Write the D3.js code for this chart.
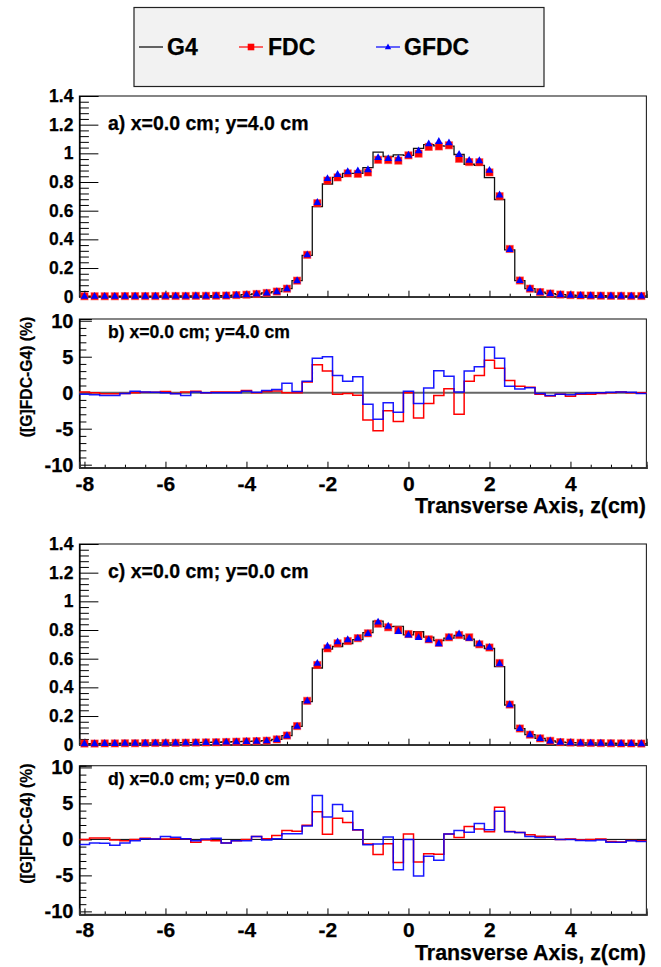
<!DOCTYPE html>
<html><head><meta charset="utf-8">
<script src="https://cdn.jsdelivr.net/npm/d3@7"></script>
<style>
body{margin:0;background:#fff}
text{font-family:"Liberation Sans",Arial,Helvetica,sans-serif;font-weight:bold;fill:#000;stroke:#000;stroke-width:0.25px}
</style>
</head><body>
<svg id="c" width="661" height="967"></svg>
<script>
// ---- DATA ----
const binWidth = 0.25;
const zBins = d3.range(56).map(i => -8 + binWidth * i);   // bin centres (cm)

const seriesNames = ["G4", "FDC", "GFDC"];
const xTickValues = [-8, -6, -4, -2, 0, 2, 4];
const xTickLabels = ["-8", "-6", "-4", "-2", "0", "2", "4"];
const yTickValuesDose = [0, 0.2, 0.4, 0.6, 0.8, 1, 1.2, 1.4];
const yTickLabelsDose = ["0", "0.2", "0.4", "0.6", "0.8", "1", "1.2", "1.4"];
const yTickValuesDiff = [-10, -5, 0, 5, 10];
const yTickLabelsDiff = ["-10", "-5", "0", "5", "10"];
const panelLabels = ["a) x=0.0 cm; y=4.0 cm", "b) x=0.0 cm; y=4.0 cm", "c) x=0.0 cm; y=0.0 cm", "d) x=0.0 cm; y=0.0 cm"];
const xTitle = "Transverse Axis, z(cm)";
const yTitleDiff = "([G]FDC-G4) (%)";

// panel a (y = 4.0 cm)
const g4A = [0.003,0.003,0.003,0.003,0.004,0.004,0.004,0.004,0.005,0.005,0.005,0.006,0.006,0.007,0.008,
  0.011,0.014,0.019,0.026,0.036,0.056,0.112,0.288,0.628,0.786,
  0.833,0.86,0.86,0.901,1.008,0.978,0.99,0.986,1.034,1.061,
  1.052,1.05,0.992,0.924,0.916,0.83,0.678,0.327,0.112,0.056,
  0.032,0.022,0.015,0.011,0.009,0.008,0.007,0.006,0.006,0.005,0.005];
const fdcA = [0.003,0.003,0.003,0.003,0.004,0.004,0.004,0.004,0.005,0.005,0.005,0.006,0.006,0.007,0.008,
  0.011,0.014,0.019,0.026,0.036,0.056,0.112,0.292,0.652,0.81,
  0.832,0.86,0.857,0.867,0.955,0.953,0.949,0.986,0.998,1.045,
  1.048,1.056,0.962,0.939,0.938,0.867,0.701,0.333,0.113,0.056,
  0.032,0.022,0.015,0.011,0.009,0.008,0.007,0.006,0.006,0.005,0.005];
const gfdcA = [0.003,0.003,0.003,0.003,0.004,0.004,0.004,0.004,0.005,0.005,0.005,0.006,0.006,0.007,0.008,
  0.011,0.014,0.019,0.026,0.036,0.057,0.112,0.293,0.658,0.825,
  0.853,0.873,0.879,0.887,0.971,0.964,0.963,0.988,1.018,1.067,
  1.084,1.074,0.993,0.952,0.949,0.882,0.71,0.33,0.113,0.056,
  0.032,0.022,0.015,0.011,0.009,0.008,0.007,0.006,0.006,0.005,0.005];
// panel b : relative differences (%)
const dFdcB = [0.1,0,-0.15,-0.15,-0.1,0,0.05,0.05,0.15,-0.1,0.1,0.2,0,0.1,0.1,
  0.1,0.3,0,0.15,0.25,0,0,1.5,3.9,3.0,
  -0.2,-0.1,-0.35,-3.8,-5.3,-2.5,-4.0,0,-3.5,-1.5,
  -0.4,0.55,-3.0,1.6,2.4,4.5,3.4,1.7,0.9,0.75,
  -0.2,-0.45,-0.2,-0.5,-0.2,-0.2,-0.1,0,0.1,0,0];
const dGfdcB = [-0.2,-0.3,-0.4,-0.4,-0.1,0.2,0.1,0.05,0,-0.15,-0.4,0.1,0,0,0,
  0,0.2,0.05,0.3,0.45,1.3,0.15,1.6,4.8,5.0,
  2.4,1.6,2.2,-1.6,-3.7,-1.4,-2.7,0.2,-1.5,0.65,
  3.05,2.3,0.1,3.0,3.6,6.3,4.8,0.9,0.5,0.7,
  -0.1,-0.4,-0.2,-0.3,-0.1,-0.05,0,0.05,0.1,0.05,-0.1];

// panel c (y = 0.0 cm)
const g4C = [0.008,0.008,0.009,0.009,0.01,0.01,0.011,0.012,0.012,0.013,0.014,0.015,0.016,0.017,0.019,
  0.021,0.023,0.025,0.028,0.037,0.063,0.128,0.3,0.535,0.667,
  0.685,0.706,0.733,0.782,0.862,0.824,0.826,0.766,0.788,0.75,
  0.726,0.744,0.763,0.736,0.69,0.671,0.545,0.277,0.112,0.07,
  0.044,0.027,0.018,0.015,0.013,0.012,0.011,0.01,0.009,0.009,0.008];
const fdcC = [0.008,0.008,0.009,0.009,0.01,0.01,0.011,0.012,0.012,0.013,0.014,0.015,0.016,0.017,0.019,
  0.021,0.023,0.025,0.028,0.037,0.064,0.13,0.306,0.556,0.672,
  0.707,0.723,0.743,0.777,0.844,0.819,0.8,0.772,0.763,0.735,
  0.711,0.749,0.765,0.749,0.7,0.678,0.57,0.28,0.113,0.07,
  0.044,0.027,0.018,0.015,0.013,0.012,0.011,0.01,0.009,0.009,0.008];
const gfdcC = [0.008,0.008,0.009,0.009,0.01,0.01,0.011,0.012,0.012,0.013,0.014,0.015,0.016,0.017,0.019,
  0.021,0.023,0.025,0.028,0.037,0.064,0.129,0.306,0.568,0.688,
  0.718,0.733,0.743,0.776,0.856,0.827,0.791,0.766,0.748,0.732,
  0.705,0.75,0.773,0.743,0.705,0.68,0.566,0.28,0.113,0.07,
  0.044,0.027,0.018,0.015,0.013,0.012,0.011,0.01,0.009,0.009,0.008];
// panel d : relative differences (%)
const dFdcD = [0,0.2,0.2,-0.1,-0.2,0,0.15,0.05,0.05,0.1,0.1,-0.4,-0.1,-0.2,-0.5,
  -0.2,0,0.4,0.1,0.55,1.25,1.15,1.95,3.85,0.7,
  2.95,2.35,1.3,-0.65,-2.1,-0.6,-3.2,0.75,-3.15,-2.0,
  -2.05,0.75,0.25,1.8,1.45,1.05,4.45,1.1,0.95,0.65,
  0.45,0.4,0,0.05,-0.05,0,0.05,-0.3,-0.35,-0.15,-0.2];
const dGfdcD = [-0.7,-0.5,-0.55,-0.8,-0.5,-0.2,0.1,0.05,0.4,0.3,0.1,-0.2,0.05,0.15,-0.5,
  -0.2,-0.2,0.4,-0.1,0.1,0.8,0.8,1.85,6.1,3.1,
  4.85,3.9,1.35,-0.75,-0.65,0.35,-4.2,0,-5.1,-2.35,
  -2.9,0.75,1.25,1.0,2.2,1.35,3.9,1.05,0.95,0.4,
  0.25,0.3,0,0,-0.15,-0.2,-0.1,-0.4,-0.4,-0.2,-0.3];

// ---- DRAWING ----
const svg = d3.select("#c");
svg.append("rect").attr("width", 661).attr("height", 967).attr("fill", "#fff");

const X0 = 79.4, X1 = 646.4;
const x = d3.scaleLinear().domain([-8.125, 5.875]).range([X0, X1]);
const hw = binWidth / 2;
const RED = "#ff0000", BLUE = "#0000ff";
const triPath = "M0,-4.3L3.8,2.6L-3.8,2.6Z";

function stepPoints(vals) {
  return zBins.flatMap((z, i) => [[z - hw, vals[i]], [z + hw, vals[i]]]);
}

function frame(g, top, bottom) {
  g.append("rect").attr("x", X0).attr("y", top).attr("width", X1 - X0).attr("height", bottom - top)
    .attr("fill", "none").attr("stroke", "#222").attr("stroke-width", 1.1);
}

function xAxis(g, y0, withLabels) {
  const minor = d3.range(-8, 5.75, 0.5).filter(v => v % 2 !== 0);
  const gm = g.append("g").attr("transform", `translate(0,${y0})`)
    .call(d3.axisBottom(x).tickValues(minor).tickSize(-3).tickFormat(""));
  const gM = g.append("g").attr("transform", `translate(0,${y0})`)
    .call(d3.axisBottom(x).tickValues(xTickValues).tickSize(-6).tickPadding(8)
      .tickFormat((d, i) => withLabels ? xTickLabels[i] : ""));
  [gm, gM].forEach(a => { a.select(".domain").attr("stroke", "#333").attr("stroke-width", 1.6); a.selectAll(".tick line").attr("stroke", "#000"); });
  gM.selectAll(".tick text").attr("font-size", 21).attr("fill", "#000");
}

function yAxis(g, y, major, labels, minorStep, majLen, minLen, fs) {
  const [lo, hi] = y.domain();
  const minor = d3.range(Math.ceil(lo / minorStep) * minorStep, hi + 1e-9, minorStep)
    .map(v => +v.toFixed(4)).filter(v => !major.some(m => Math.abs(m - v) < 1e-6));
  const gm = g.append("g").attr("transform", `translate(${X0},0)`)
    .call(d3.axisLeft(y).tickValues(minor).tickSize(-minLen).tickFormat(""));
  const gM = g.append("g").attr("transform", `translate(${X0},0)`)
    .call(d3.axisLeft(y).tickValues(major).tickSize(-majLen).tickPadding(6).tickFormat((d, i) => labels[i]));
  [gm, gM].forEach(a => { a.select(".domain").attr("stroke", "#000").attr("stroke-width", 1); a.selectAll(".tick line").attr("stroke", "#000"); });
  gM.selectAll(".tick text").attr("font-size", fs).attr("fill", "#000");
}

function dosePanel(top, g4, fdc, gfdc, label) {
  const bottom = top + 200.7;
  const y = d3.scaleLinear().domain([0, 1.4]).range([bottom, top]);
  const g = svg.append("g");
  frame(g, top, bottom);
  yAxis(g, y, yTickValuesDose, yTickLabelsDose, 0.04, 19, 9.5, 17.5);
  xAxis(g, bottom, false);
  const line = d3.line().x(d => x(d[0])).y(d => y(d[1]));
  g.append("path").attr("d", line(stepPoints(g4))).attr("fill", "none")
    .attr("stroke", "#111").attr("stroke-width", 1.3);
  g.selectAll(null).data(fdc).join("rect")
    .attr("x", (d, i) => x(zBins[i]) - 3.6).attr("y", d => y(d) - 3.6)
    .attr("width", 7.2).attr("height", 7.2)
    .attr("fill", RED).attr("stroke", "rgba(255,60,60,0.55)").attr("stroke-width", 1);
  g.selectAll(null).data(gfdc).join("path")
    .attr("d", triPath).attr("transform", (d, i) => `translate(${x(zBins[i])},${y(d)})`)
    .attr("fill", BLUE);
  g.append("text").attr("x", 108).attr("y", top + 34).attr("font-size", 19.5).text(label);
}

function diffPanel(top, dF, dG, label, zeroColor, zeroWidth) {
  const bottom = top + 148.7;
  const y = d3.scaleLinear().domain([-10.42, 10.24]).range([bottom, top]);
  const g = svg.append("g");
  frame(g, top, bottom);
  yAxis(g, y, yTickValuesDiff, yTickLabelsDiff, 1, 12.5, 7, 20);
  xAxis(g, bottom, true);
  g.append("line").attr("x1", X0).attr("x2", X1).attr("y1", y(0)).attr("y2", y(0))
    .attr("stroke", zeroColor).attr("stroke-width", zeroWidth);
  const line = d3.line().x(d => x(d[0])).y(d => y(d[1]));
  g.append("path").attr("d", line(stepPoints(dF))).attr("fill", "none")
    .attr("stroke", RED).attr("stroke-width", 1.5);
  g.append("path").attr("d", line(stepPoints(dG))).attr("fill", "none")
    .attr("stroke", BLUE).attr("stroke-width", 1.5).attr("stroke-opacity", 0.9);
  g.append("text").attr("x", 108).attr("y", top + 19.3).attr("font-size", 17.6).text(label);
  g.append("text").attr("x", 646).attr("y", bottom + 45.5).attr("text-anchor", "end")
    .attr("font-size", 21.4).text(xTitle);
  g.append("text").attr("transform", `translate(32,${top + 58}) rotate(-90)`)
    .attr("text-anchor", "middle").attr("font-size", 15.7).text(yTitleDiff);
}

dosePanel(96, g4A, fdcA, gfdcA, panelLabels[0]);
diffPanel(319, dFdcB, dGfdcB, panelLabels[1], "#666", 2);
dosePanel(544, g4C, fdcC, gfdcC, panelLabels[2]);
diffPanel(765.7, dFdcD, dGfdcD, panelLabels[3], "#000", 1);

// ---- LEGEND ----
const leg = svg.append("g");
leg.append("rect").attr("x", 134).attr("y", 7.5).attr("width", 410).attr("height", 79)
  .attr("fill", "#f2f2f2").attr("stroke", "#222").attr("stroke-width", 1.2);
const legItems = [
  {name: seriesNames[0], x0: 139, color: "#000", mark: null, tx: 167},
  {name: seriesNames[1], x0: 239, color: RED, mark: "sq", tx: 268},
  {name: seriesNames[2], x0: 376, color: BLUE, mark: "tri", tx: 404}
];
legItems.forEach(it => {
  leg.append("line").attr("x1", it.x0).attr("x2", it.x0 + 24).attr("y1", 47).attr("y2", 47)
    .attr("stroke", it.color).attr("stroke-width", 1.2);
  if (it.mark === "sq") leg.append("rect").attr("x", it.x0 + 12 - 3.3).attr("y", 47 - 3.3)
    .attr("width", 6.6).attr("height", 6.6).attr("fill", RED);
  if (it.mark === "tri") leg.append("path").attr("d", "M0,-3.6L3.2,2.2L-3.2,2.2Z")
    .attr("transform", `translate(${it.x0 + 12},47)`).attr("fill", BLUE);
  leg.append("text").attr("x", it.tx).attr("y", 55).attr("font-size", 23).text(it.name);
});
</script>
</body></html>
